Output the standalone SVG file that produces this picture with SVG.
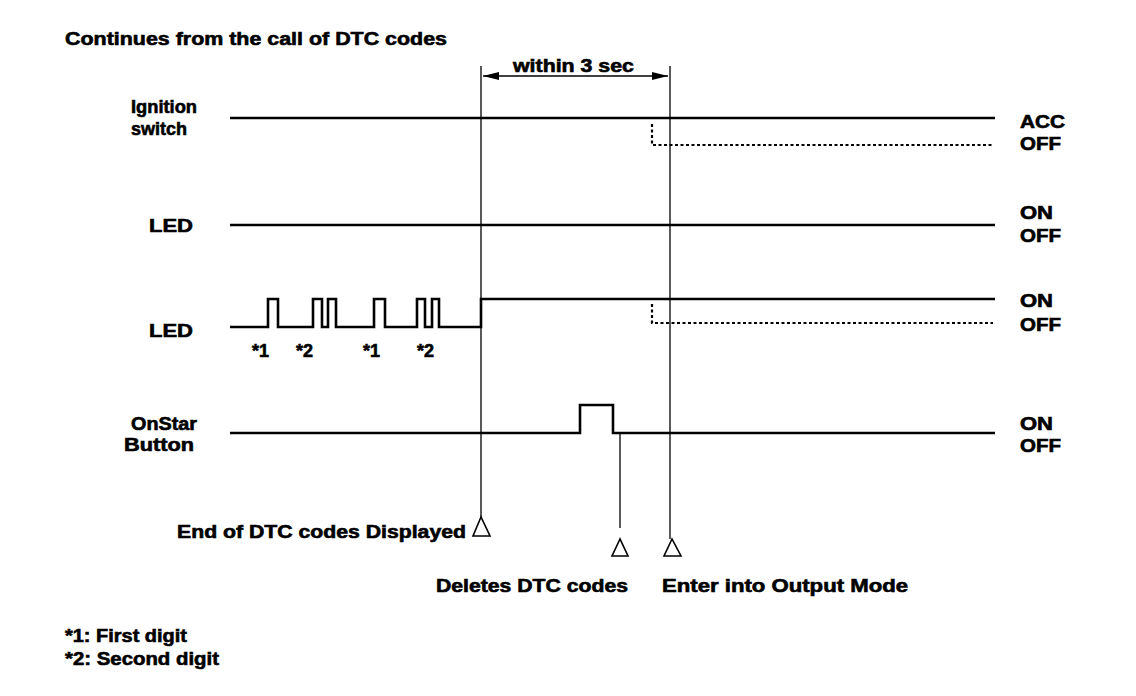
<svg xmlns="http://www.w3.org/2000/svg" width="1136" height="696" viewBox="0 0 1136 696">
<style>
text{font-family:"Liberation Sans",Arial,sans-serif;font-weight:bold;font-size:18px;fill:#000;stroke:#000;stroke-width:0.6}
.sig{fill:none;stroke:#000;stroke-width:2.6}
.dot{fill:none;stroke:#000;stroke-width:2.2;stroke-dasharray:3 2.5}
.thin{fill:none;stroke:#000;stroke-width:1.3}
.tri{fill:#fff;stroke:#000;stroke-width:1.6}
</style>
<defs>
<marker id="ah" viewBox="0 0 16 8" refX="16" refY="4" markerWidth="16" markerHeight="8" markerUnits="userSpaceOnUse" orient="auto-start-reverse">
<path d="M0,0 L16,4 L0,8 Z" fill="#000"/>
</marker>
</defs>
<rect width="1136" height="696" fill="#fff"/>
<text x="65" y="45" textLength="382" lengthAdjust="spacingAndGlyphs">Continues from the call of DTC codes</text>
<g id="connectors">
<line class="thin" x1="481" y1="66" x2="481" y2="517"/>
<line class="thin" x1="670" y1="66" x2="670" y2="539"/>
<line class="thin" x1="620" y1="433" x2="620" y2="528"/>
<line class="thin" x1="483" y1="76" x2="668" y2="76" marker-start="url(#ah)" marker-end="url(#ah)"/>
</g>
<g id="label-within">
<text x="513" y="72" textLength="121" lengthAdjust="spacingAndGlyphs">within 3 sec</text>
</g>
<g id="ignition">
<text x="131" y="113" textLength="66" lengthAdjust="spacingAndGlyphs">Ignition</text>
<text x="131" y="135" textLength="56" lengthAdjust="spacingAndGlyphs">switch</text>
<line class="sig" x1="230" y1="118" x2="995" y2="118"/>
<path class="dot" d="M652,124 V145 H993"/>
<text x="1020" y="128" textLength="45" lengthAdjust="spacingAndGlyphs">ACC</text>
<text x="1020" y="150" textLength="41" lengthAdjust="spacingAndGlyphs">OFF</text>
</g>
<g id="led1">
<text x="149" y="232" textLength="44" lengthAdjust="spacingAndGlyphs">LED</text>
<line class="sig" x1="230" y1="225" x2="995" y2="225"/>
<text x="1020" y="219" textLength="33" lengthAdjust="spacingAndGlyphs">ON</text>
<text x="1020" y="242" textLength="41" lengthAdjust="spacingAndGlyphs">OFF</text>
</g>
<g id="led2">
<text x="149" y="337" textLength="44" lengthAdjust="spacingAndGlyphs">LED</text>
<path class="sig" d="M230,327 H268 V299 H278 V327 H313 V299 H322 V327 H328 V299 H336 V327 H374 V299 H385 V327 H417 V299 H425 V327 H432 V299 H439 V327 H481 V299 H995"/>
<path class="dot" d="M652,304 V323 H993"/>
<text x="252" y="357">*1</text>
<text x="296" y="357">*2</text>
<text x="363" y="357">*1</text>
<text x="417" y="357">*2</text>
<text x="1020" y="307" textLength="33" lengthAdjust="spacingAndGlyphs">ON</text>
<text x="1020" y="331" textLength="41" lengthAdjust="spacingAndGlyphs">OFF</text>
</g>
<g id="onstar">
<text x="131" y="430" textLength="66" lengthAdjust="spacingAndGlyphs">OnStar</text>
<text x="124" y="451" textLength="70" lengthAdjust="spacingAndGlyphs">Button</text>
<path class="sig" d="M230,433 H580 V405 H613 V433 H995"/>
<text x="1020" y="430" textLength="33" lengthAdjust="spacingAndGlyphs">ON</text>
<text x="1020" y="452" textLength="41" lengthAdjust="spacingAndGlyphs">OFF</text>
</g>
<g id="end-dtc">
<polygon class="tri" points="481,517 473,536 490,536"/>
<text x="177" y="538" textLength="289" lengthAdjust="spacingAndGlyphs">End of DTC codes Displayed</text>
</g>
<g id="deletes">
<polygon class="tri" points="620,539 612,556 628,556"/>
<text x="436" y="592" textLength="192" lengthAdjust="spacingAndGlyphs">Deletes DTC codes</text>
</g>
<g id="output">
<polygon class="tri" points="672,539 664,556 681,556"/>
<text x="662" y="592" textLength="246" lengthAdjust="spacingAndGlyphs">Enter into Output Mode</text>
</g>
<g id="legend">
<text x="65" y="642" textLength="122" lengthAdjust="spacingAndGlyphs">*1: First digit</text>
<text x="65" y="665" textLength="154" lengthAdjust="spacingAndGlyphs">*2: Second digit</text>
</g>
</svg>
